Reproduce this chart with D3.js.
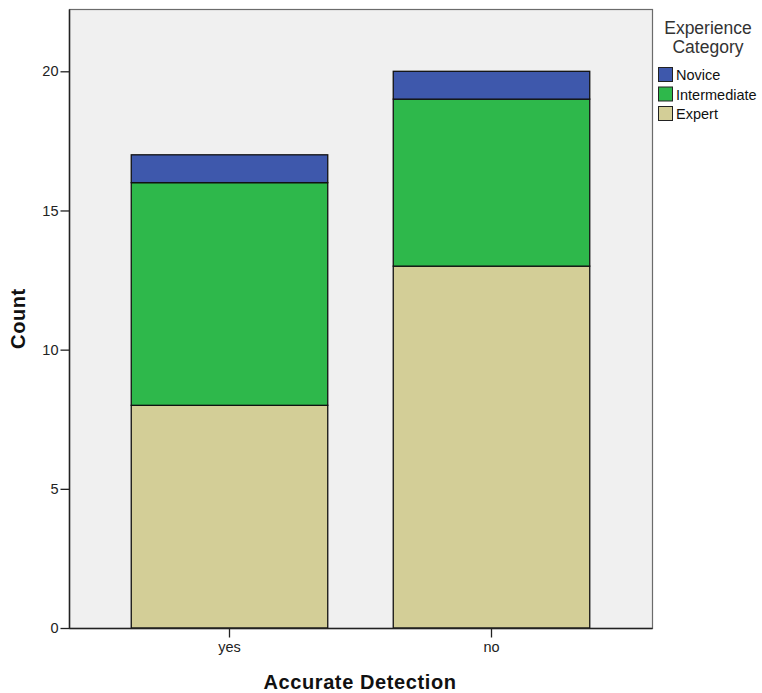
<!DOCTYPE html>
<html>
<head>
<meta charset="utf-8">
<script src="https://cdn.jsdelivr.net/npm/d3@7"></script>
<style>
  html, body { margin: 0; padding: 0; background: #fff; }
  svg { display: block; font-family: Arial, "Liberation Sans", sans-serif; }
</style>
</head>
<body>
<svg id="chart" width="762" height="693"></svg>
<script>
const categories = ["yes", "no"];
const seriesNames = ["Expert", "Intermediate", "Novice"];
const expert = [8, 13];
const intermediate = [8, 6];
const novice = [1, 1];
const yTicks = [0, 5, 10, 15, 20];
const legendOrder = ["Novice", "Intermediate", "Expert"];
const colors = { Novice: "#3E58AC", Intermediate: "#2EB84B", Expert: "#D3CE97" };

const svg = d3.select("#chart");
const plot = { left: 69.5, right: 652.5, top: 9.5, bottom: 628.5 };

svg.append("rect")
  .attr("x", plot.left).attr("y", plot.top)
  .attr("width", plot.right - plot.left).attr("height", plot.bottom - plot.top)
  .attr("fill", "#F0F0F0").attr("stroke", "#6b6b6b").attr("stroke-width", 1.2);

const x = d3.scaleBand().domain(categories).range([98.5, 622.5])
  .paddingInner(0.25).paddingOuter(0.125);
const y = d3.scaleLinear().domain([0, 20]).range([628, 71.3]);

const table = categories.map((c, i) => ({ cat: c, Expert: expert[i], Intermediate: intermediate[i], Novice: novice[i] }));
const stacked = d3.stack().keys(seriesNames)(table);

svg.append("g").selectAll("g").data(stacked).join("g")
  .attr("fill", d => colors[d.key])
  .selectAll("rect").data(d => d).join("rect")
  .attr("x", d => x(d.data.cat))
  .attr("y", d => y(d[1]))
  .attr("width", x.bandwidth())
  .attr("height", d => y(d[0]) - y(d[1]))
  .attr("stroke", "#111").attr("stroke-width", 1.3);

// y axis
const yAxis = svg.append("g").attr("transform", `translate(${plot.left},0)`)
  .call(d3.axisLeft(y).tickValues(yTicks).tickSize(9).tickPadding(2).tickFormat(d3.format("d")));
yAxis.select(".domain").attr("stroke", "#222").attr("stroke-width", 1.5).attr("d", `M0,${plot.top}V${plot.bottom}`);
yAxis.selectAll(".tick line").attr("stroke", "#222").attr("stroke-width", 1.3);
yAxis.selectAll(".tick text").attr("font-size", 14.5).attr("fill", "#222").attr("font-family", "Arial, 'Liberation Sans', sans-serif");

// x axis
const xAxis = svg.append("g").attr("transform", `translate(0,${plot.bottom})`)
  .call(d3.axisBottom(x).tickSize(9).tickPadding(4));
xAxis.select(".domain").attr("stroke", "#222").attr("stroke-width", 1.5).attr("d", `M${plot.left},0H${plot.right}`);
xAxis.selectAll(".tick line").attr("stroke", "#222").attr("stroke-width", 1.3);
xAxis.selectAll(".tick text").attr("font-size", 14.5).attr("fill", "#222").attr("font-family", "Arial, 'Liberation Sans', sans-serif");

// axis titles
svg.append("text").attr("x", 360).attr("y", 689).attr("text-anchor", "middle")
  .attr("font-size", 20).attr("font-weight", "bold").attr("fill", "#111").attr("letter-spacing", 0.6)
  .text("Accurate Detection");
svg.append("text").attr("transform", "translate(25,318.5) rotate(-90)").attr("text-anchor", "middle")
  .attr("font-size", 20).attr("font-weight", "bold").attr("fill", "#111").attr("letter-spacing", 0.6)
  .text("Count");

// legend
const lg = svg.append("g");
lg.append("text").attr("x", 708).attr("y", 34).attr("text-anchor", "middle")
  .attr("font-size", 17.5).attr("fill", "#333").text("Experience");
lg.append("text").attr("x", 708).attr("y", 53).attr("text-anchor", "middle")
  .attr("font-size", 17.5).attr("fill", "#333").text("Category");
const items = lg.selectAll("g.item").data(legendOrder).join("g").attr("class", "item")
  .attr("transform", (d, i) => `translate(658.5,${67.5 + i * 19.5})`);
items.append("rect").attr("width", 14).attr("height", 14)
  .attr("fill", d => colors[d]).attr("stroke", "#222").attr("stroke-width", 1);
items.append("text").attr("x", 17.5).attr("y", 12.5).attr("font-size", 14.5).attr("fill", "#111").text(d => d);
</script>
</body>
</html>
